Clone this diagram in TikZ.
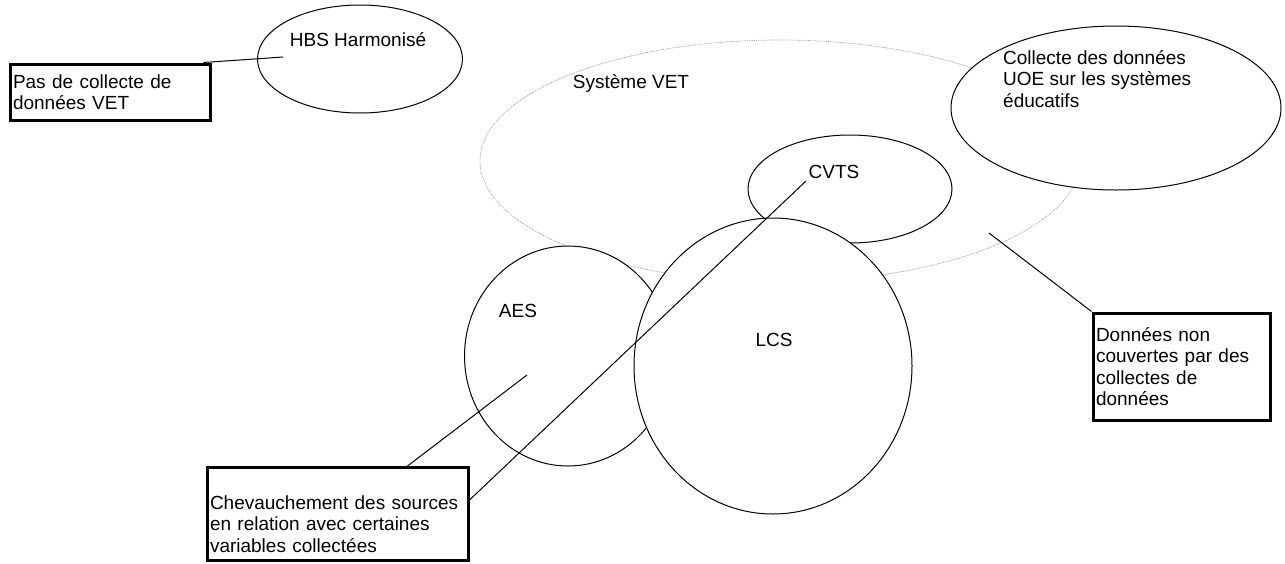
\documentclass[tikz,border=0pt]{standalone}
\usepackage{fontspec}
\setmainfont{Liberation Sans}
\usetikzlibrary{positioning,shapes.geometric}
\tikzset{
  set/.style={ellipse,draw,line width=1pt,fill=white,inner sep=0pt},
  vetset/.style={ellipse,draw=gray!85,dash pattern=on 0.8pt off 1pt,line width=0.7pt,inner sep=0pt},
  note/.style={draw,line width=3pt,align=left,inner xsep=3pt,inner ysep=0pt},
  tag/.style={inner sep=0pt},
  link/.style={line width=1pt},
}
\begin{document}
\begin{tikzpicture}[x=1pt,y=-1pt,font=\fontsize{19}{21.5}\selectfont]
        \useasboundingbox (0,0) rectangle (1285,563);

        \node[vetset,minimum width=600pt,minimum height=242pt] (vet) at (780,161) {};
        \node[set,minimum width=330pt,minimum height=164pt] (uoe) at (1116,108) {};
        \node[set,minimum width=205pt,minimum height=108pt] (hbs) at (360,59) {};
        \node[set,minimum width=204pt,minimum height=108pt] (cvts) at (850,189) {};
        \node[set,minimum width=207pt,minimum height=220pt] (aes) at (568,356) {};
        \node[set,minimum width=278pt,minimum height=296pt] (lcs) at (773,366) {};

        \node[tag] (hbs text) at (358,40) {HBS Harmonisé};
        \node[tag] (vet text) at (631,83) {Système VET};
        \node[tag,align=left,anchor=west] (uoe text) at (1003,79) {Collecte des données\\UOE sur les systèmes\\éducatifs};
        \node[tag] (cvts text) at (834,172) {CVTS};
        \node[tag] (aes text) at (518,311) {AES};
        \node[tag] (lcs text) at (774,340) {LCS};

        \node[note,text width=194pt,minimum height=56pt] (nocollect) at (110,92) {Pas de collecte de\\données VET};
        \node[note,text width=171pt,minimum height=107pt] (nodata) at (1181.5,366.5) {Données non\\couvertes par des\\collectes de\\données};
        \node[note,text width=255pt,minimum height=93pt] (overlap) at (337.5,514) {\rule{0pt}{34pt}Chevauchement des sources\\en relation avec certaines\\variables collectées};

        \coordinate (hbs pt) at (283,57);
        \coordinate (vet pt) at (989,233);
        \coordinate (aes pt) at (527,375);
        \coordinate (cvts pt) at (806,181);

        \draw[link] ([xshift=-8pt]nocollect.north east) -- (hbs pt);
        \draw[link] (nodata.north west) -- (vet pt);
        \draw[link] ([xshift=70pt]overlap.north) -- (aes pt);
        \draw[link] ([yshift=14pt]overlap.east) -- (cvts pt);
    \end{tikzpicture}
\end{document}
